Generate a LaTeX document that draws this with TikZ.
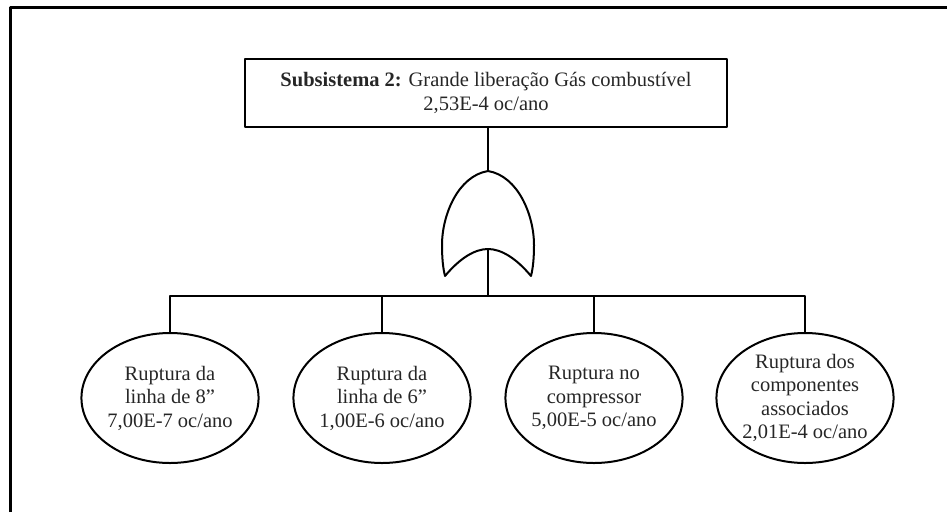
\documentclass[tikz,border=0pt]{standalone}
\usepackage{fontspec}
\setmainfont{Liberation Serif}
\usetikzlibrary{shapes.geometric}
\begin{document}
\begin{tikzpicture}[x=1pt,y=-1pt,
  line join=round,
  wire/.style={line width=2pt},
  topbox/.style={draw,line width=2.4pt,minimum width=482pt,minimum height=68pt,
    inner sep=0pt,align=center,font=\fontsize{20.5}{24}\selectfont,text=black!85},
  basic/.style={draw,ellipse,line width=2pt,minimum width=172pt,minimum height=130pt,
    inner sep=0pt,align=center,font=\fontsize{20.5}{23.5}\selectfont,text=black!85}]
\useasboundingbox (0,0) rectangle (947,512);
% outer frame (top and left edges only)
\draw[line width=3pt] (10,512) -- (10,7.5) -- (947,7.5);

% top event
\node[topbox] (top) at (486,93)
  {\textbf{Subsistema 2:} Grande liberação Gás combustível\\2,53E-4 oc/ano};

% OR gate
\coordinate (gtop) at (488,171);
\coordinate (gbot) at (488,249);
\draw[wire] (gtop)
  .. controls (458,176) and (442,215) .. (442,245)
  .. controls (442,258) and (443,268) .. (445,276)
  .. controls (460,258) and (475,249) .. (gbot)
  .. controls (501,249) and (516,258) .. (531,276)
  .. controls (533,268) and (534,258) .. (534,245)
  .. controls (534,215) and (518,176) .. (gtop) -- cycle;

% basic events
\node[basic] (e1) at (170,398) {Ruptura da\\linha de 8”\\7,00E-7 oc/ano};
\node[basic] (e2) at (382,398) {Ruptura da\\linha de 6”\\1,00E-6 oc/ano};
\node[basic] (e3) at (594,398) {Ruptura no\\compressor\\5,00E-5 oc/ano};
\node[basic] (e4) at (805,398) {Ruptura dos\\componentes\\associados\\2,01E-4 oc/ano};

% connectors
\coordinate (bus) at (488,296);
\draw[wire] (top.south -| gtop) -- (gtop);
\draw[wire] (gbot) -- (bus);
\draw[wire] (e1.north) -- (e1.north |- bus) -- (e4.north |- bus) -- (e4.north);
\draw[wire] (e2.north) -- (e2.north |- bus);
\draw[wire] (e3.north) -- (e3.north |- bus);
\end{tikzpicture}
\end{document}
